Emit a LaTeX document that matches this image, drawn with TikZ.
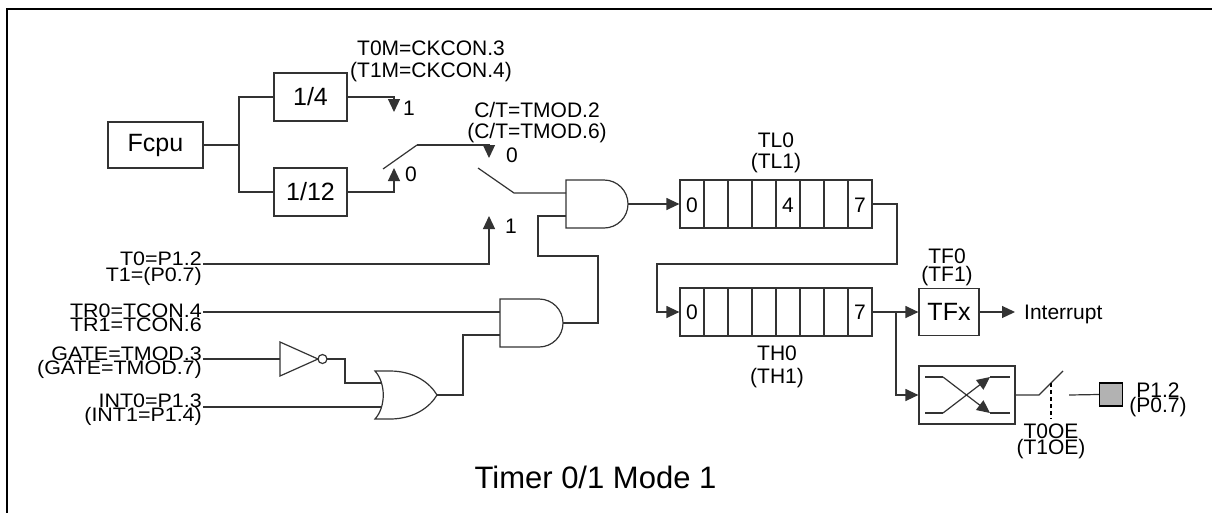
\documentclass[tikz,border=0pt]{standalone}
\usepackage{fontspec}
\setmainfont{Liberation Sans}
\newfontfamily\widesans[FakeStretch=1.1]{Liberation Sans}
\usetikzlibrary{arrows.meta}
\newcommand\stkR[3]{\vtop{\baselineskip=#1pt\lineskiplimit=-100pt\lineskip=0pt\halign{\hfil##\cr#2\cr#3\cr}}}
\newcommand\stkC[3]{\vtop{\baselineskip=#1pt\lineskiplimit=-100pt\lineskip=0pt\halign{\hfil##\hfil\cr#2\cr#3\cr}}}
\begin{document}
\begin{tikzpicture}[x=1pt,y=-1pt,
 wire/.style={line width=1.2pt,draw=black!80},
 arr/.style={wire,-{Triangle[length=13pt,width=12pt]}},
 blk/.style={draw=black!80,line width=1.2pt,inner sep=0pt,font=\fontsize{25}{25}\selectfont},
 reg/.style={draw=black!80,line width=1.2pt,inner sep=0pt,minimum width=192pt,minimum height=48pt},
 lab/.style={inner sep=0pt,anchor=base,font=\fontsize{21}{21}\selectfont},
 llab/.style={inner sep=0pt,anchor=base east,font=\widesans\fontsize{19.5}{19.5}\selectfont},
]
\useasboundingbox (0,0) rectangle (1212,512);
\fill[white] (0,0) rectangle (1212,512);
\draw[line width=2.5pt] (7,514) -- (7,9) -- (1214,9);

% clock blocks
\node[blk,minimum width=95pt,minimum height=46pt] (fcpu) at (155.5,145) {Fcpu};
\node[blk,minimum width=73pt,minimum height=48pt] (q4) at (310.5,97) {1/4};
\node[blk,minimum width=73pt,minimum height=48pt] (q12) at (310.5,192) {1/12};
\coordinate (split) at (239,145);
\draw[wire] (fcpu.east) -- (split);
\draw[wire] (q4.west) -| (split) |- (q12.west);

% switch 1
\coordinate (k1) at (394,112);
\coordinate (k0) at (394,168);
\coordinate (s1e) at (383,169);
\coordinate (s1p) at (417,145);
\draw[arr] (q4.east) -| (k1);
\draw[arr] (q12.east) -| (k0);
\draw[wire] (s1e) -- (s1p);
\node[lab] (t0m) at (431,55) {\stkC{22}{T0M=CKCON.3}{(T1M=CKCON.4)}};
\node[lab] (one1) at (409,115) {1};
\node[lab] (zero1) at (411,181) {0};

% switch 2
\coordinate (k20) at (489,158);
\coordinate (k21) at (489,216);
\coordinate (s2e) at (478,168);
\coordinate (s2p) at (514,193);
\draw[arr] (s1p) -| (k20);
\node[lab] (ct) at (537,117) {\stkC{21}{C/T=TMOD.2}{(C/T=TMOD.6)}};
\node[lab] (zero2) at (512,162) {0};
\node[lab] (one2) at (511,233) {1};

% AND gate 1
\coordinate (a1a) at (566,193);
\coordinate (a1b) at (566,216);
\coordinate (a1o) at (628,204);
\draw[wire] (566,180) -- (604,180) arc[start angle=-90,end angle=90,radius=24] -- (566,228) -- cycle;
\draw[wire] (s2e) -- (s2p) -- (a1a);

% AND gate 2
\coordinate (a2a) at (500,312);
\coordinate (a2b) at (500,335);
\coordinate (a2o) at (563,323);
\draw[wire] (500,299) -- (539,299) arc[start angle=-90,end angle=90,radius=24] -- (500,347) -- cycle;
\draw[wire] (a2o) -- (598,323) -- (598,256) -- (538,256) -- (538,216) -- (a1b);

% left inputs
\coordinate (t0) at (203,264);
\coordinate (tr0) at (203,312);
\coordinate (gate) at (203,359);
\coordinate (int0) at (203,407);
\node[llab] (l1) at (202,265) {\stkR{16}{T0=P1.2}{T1=(P0.7)}};
\node[llab] (l2) at (202,317) {\stkR{14.5}{TR0=TCON.4}{TR1=TCON.6}};
\node[llab] (l3) at (202,360) {\stkR{14.5}{GATE=TMOD.3}{(GATE=TMOD.7)}};
\node[llab] (l4) at (202,407) {\stkR{14.5}{INT0=P1.3}{(INT1=P1.4)}};
\draw[arr] (t0) -| (k21);
\draw[wire] (tr0) -- (a2a);

% inverter
\draw[wire] (280,342) -- (318,359) -- (280,376) -- cycle;
\draw[wire] (322.5,359) circle[radius=4.5];
\draw[wire] (gate) -- (280,359);
\draw[wire] (327,359) -- (345,359) -- (345,383) -- (381.5,383);

% OR gate
\draw[wire] (375,371) -- (390,371) .. controls (414,371) and (430,383) .. (437,395)
  .. controls (430,407) and (414,419) .. (390,419) -- (375,419)
  .. controls (386,407) and (386,383) .. (375,371) -- cycle;
\draw[wire] (int0) -- (381.5,407);
\draw[wire] (437,395) -- (463,395) -- (463,335) -- (a2b);

% TL register
\node[reg] (tl) at (776,204) {};
\foreach \i in {1,...,7} \draw[wire] (680+24*\i,180) -- (680+24*\i,228);
\node[lab] (tlc0) at (692,212) {0};
\node[lab] (tlc4) at (788,212) {4};
\node[lab] (tlc7) at (860,212) {7};
\node[lab] (tln) at (776,147) {\stkC{21}{TL0}{(TL1)}};
\draw[arr] (a1o) -- (tl.west);

% TH register
\node[reg] (th) at (776,312) {};
\foreach \i in {1,...,7} \draw[wire] (680+24*\i,288) -- (680+24*\i,336);
\node[lab] (thc0) at (692,319) {0};
\node[lab] (thc7) at (860,319) {7};
\node[lab] (thn) at (777,360) {\stkC{23}{TH0}{(TH1)}};
\draw[arr] (tl.east) -- (897,204) -- (897,264) -- (657,264) -- (657,312) -- (th.west);

% TF flag
\node[blk,minimum width=60pt,minimum height=47pt] (tfx) at (949,312) {TFx};
\node[lab] (tf) at (947,263) {\stkC{18}{TF0}{(TF1)}};
\coordinate (br) at (896,312);
\coordinate (intr) at (1015,312);
\draw[arr] (th.east) -- (tfx.west);
\draw[arr] (tfx.east) -- (intr);
\node[lab,anchor=base west] (intl) at (1024,319) {Interrupt};

% toggle box
\node[draw=black!80,line width=1.2pt,inner sep=0pt,minimum width=96pt,minimum height=58pt] (swp) at (967,395) {};
\draw[arr] (br) |- (swp.west);
\draw[wire] (925,377) -- (943,377);
\draw[arr] (943,377) -- (990,413);
\draw[wire] (990,413) -- (1010,413);
\draw[wire] (925,413) -- (943,413);
\draw[arr] (943,413) -- (990,377);
\draw[wire] (990,377) -- (1010,377);

% output switch and pin
\coordinate (o1) at (1039,395);
\coordinate (o2) at (1063,371);
\coordinate (o3) at (1069,395);
\draw[wire] (swp.east) -- (o1) -- (o2);
\draw[line width=2pt,dash pattern=on 4pt off 3pt] (1051,383) -- (1051,419);
\node[lab] (oe) at (1051,438) {\stkC{16}{T0OE}{(T1OE)}};
\node[draw=black,line width=1.2pt,fill=black!30,minimum size=23pt,inner sep=0pt] (pin) at (1111,394.5) {};
\draw[wire] (o3) -- (pin.west);
\node[lab] (p) at (1158,397) {\stkC{15}{P1.2}{(P0.7)}};

% title
\node[inner sep=0pt,anchor=base,font=\fontsize{31}{31}\selectfont] (title) at (595.5,488) {Timer 0/1 Mode 1};
\end{tikzpicture}
\end{document}
